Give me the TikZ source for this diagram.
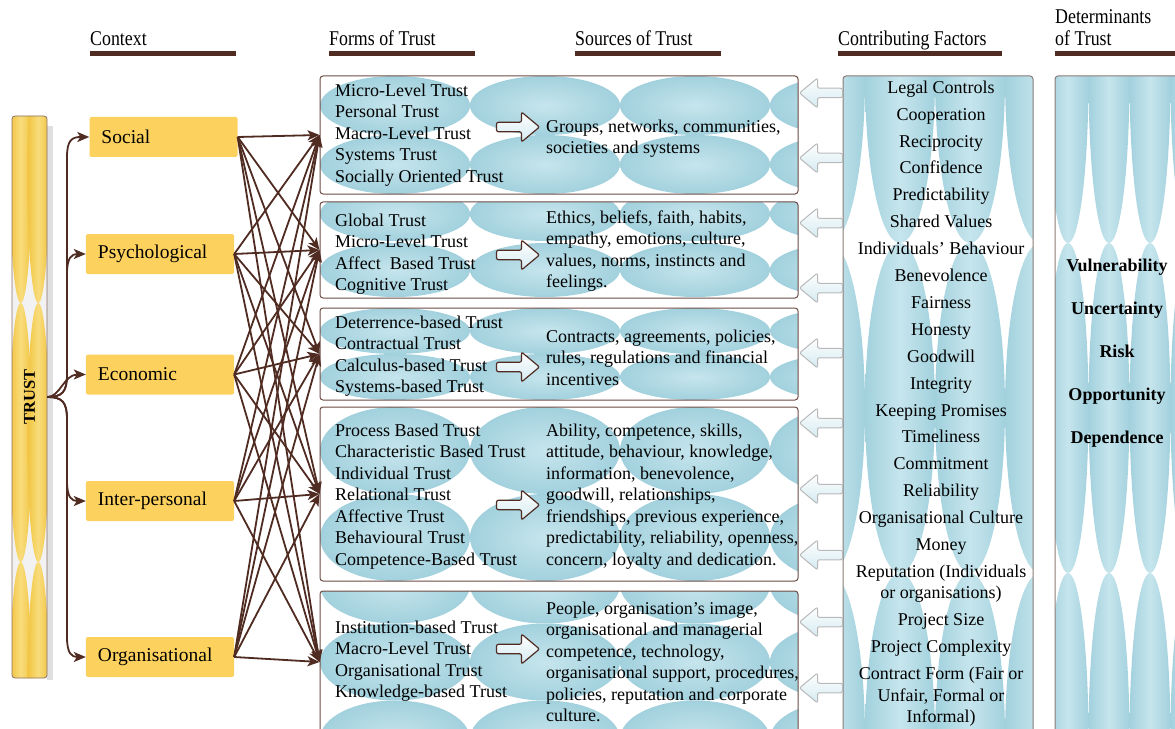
\documentclass[tikz,border=0pt]{standalone}
\usepackage{fontspec}
\setmainfont{Liberation Serif}
\newfontfamily\hdfont[FakeStretch=0.85]{Liberation Serif}
\usetikzlibrary{arrows.meta}
\definecolor{tbrown}{HTML}{4F2B22}
\definecolor{bluD}{HTML}{A2D1DD}
\definecolor{bluL}{HTML}{C6E5ED}
\definecolor{ylw}{HTML}{FCD15E}
\definecolor{ylwD}{HTML}{F2C440}
\definecolor{ylwL}{HTML}{F8DC7C}
\definecolor{boxline}{HTML}{6E4C44}
\definecolor{colline}{HTML}{8C7C78}
\definecolor{arrfill}{HTML}{D3EAF1}
\newcommand\txf{\fontsize{18bp}{21.5bp}\selectfont}
\newcommand\cff{\fontsize{18bp}{26.9bp}\selectfont}
\newcommand\dtf{\fontsize{18bp}{43bp}\selectfont\bfseries}
\newcommand\ctxf{\fontsize{19.5bp}{22bp}\selectfont}
\newcommand\hdf{\hdfont\fontsize{21bp}{22bp}\selectfont}
\newcommand\formbg[4]{%
  \begin{scope}
    \clip[rounded corners=3bp] (320,#1) rectangle (798,#2);
    \fill[white] (320,#1) rectangle (798,#2);
    \foreach \ry in {#3}{\foreach \cx in {395,545,695,845}{
      \shade[inner color=bluL, outer color=bluD] (\cx,\ry) ellipse [x radius=75bp, y radius=#4bp];}}
  \end{scope}}
\tikzset{
  hdr/.style={font=\hdf, inner sep=0, anchor=base west},
  ctx/.style={fill=ylw, rounded corners=2bp, minimum height=40bp, text width=124bp,
    inner xsep=12bp, inner ysep=0, align=left, font=\ctxf},
  formbox/.style={draw=boxline, line width=1bp, rounded corners=3bp, inner sep=0, minimum width=478bp},
  txt/.style={font=\txf, align=left, anchor=north west, inner sep=0},
  link/.style={draw=tbrown, line width=1.8bp, -{Stealth[length=12bp, width=10bp, inset=3bp]}},
  rarr/.pic={\shade[draw=tbrown, line width=1.2bp, top color=white, bottom color=arrfill, rounded corners=2bp]
    (-21.5,-4.75) -- (3.5,-4.75) -- (3.5,-15) -- (21.5,0) -- (3.5,15) -- (3.5,4.75) -- (-21.5,4.75) -- cycle;},
  larr/.pic={\shade[draw=gray!55, line width=1bp, top color=white, bottom color=arrfill, rounded corners=2bp]
    (21.5,-4.75) -- (-3.5,-4.75) -- (-3.5,-15) -- (-21.5,0) -- (-3.5,15) -- (-3.5,4.75) -- (21.5,4.75) -- cycle;}
}
\begin{document}
\begin{tikzpicture}[x=1bp,y=-1bp]
\useasboundingbox (0,0) rectangle (1175,729);
\clip (0,0) rectangle (1175,729);
\fill[white] (0,0) rectangle (1175,729);

% headers
\node[hdr] (hctx) at (90,46) {Context};
\node[hdr] (hform) at (329,46) {Forms of Trust};
\node[hdr] (hsrc) at (575,46) {Sources of Trust};
\node[hdr] (hcf) at (838,46) {Contributing Factors};
\node[hdr] (hdet1) at (1055,24) {Determinants};
\node[hdr] (hdet2) at (1055,46) {of Trust};
\foreach \a/\b in {90/236,329/475,575/721,838/1002,1055/1180}{\fill[tbrown] (\a,51) rectangle (\b,56);}

% TRUST bar
\fill[gray!25] (47,126) rectangle (53,680);
\begin{scope}
  \clip[rounded corners=3bp] (12,116) rectangle (47,678);
  \fill[gray!10] (12,116) rectangle (47,678);
  \foreach \cy in {173.5,432.5,691.5}{\foreach \cx in {20.75,38.25}{
    \shade[left color=ylwD, right color=ylwD, middle color=ylwL] (\cx,\cy) ellipse [x radius=11bp, y radius=129.5bp];}}
\end{scope}
\node[draw=boxline!80, line width=0.8bp, rounded corners=3bp, minimum width=35bp, minimum height=562bp, inner sep=0] (trust) at (29.5,397) {};
\node[rotate=90, font=\bfseries\fontsize{16.5bp}{18bp}\selectfont, inner sep=0] (trustlbl) at (29.5,397) {TRUST};

% context boxes
\node[ctx] (social) at (163.5,137) {Social};
\node[ctx] (psych) at (160,254) {Psychological};
\node[ctx] (econ) at (160,374.5) {Economic};
\node[ctx] (inter) at (160,501) {Inter-personal};
\node[ctx] (org) at (160,657) {Organisational};

% trust branches
\draw[link] (trust.east) .. controls (62,397) and (67,392) .. (67,375) -- (67,157) .. controls (67,140) and (72,137) .. (social.west);
\draw[link] (trust.east) .. controls (62,397) and (67,392) .. (67,375) -- (67,274) .. controls (67,257) and (72,254) .. (psych.west);
\draw[link] (trust.east) .. controls (60,397) and (64,374.5) .. (econ.west);
\draw[link] (trust.east) .. controls (62,397) and (67,402) .. (67,419) -- (67,481) .. controls (67,498) and (72,501) .. (inter.west);
\draw[link] (trust.east) .. controls (62,397) and (67,402) .. (67,419) -- (67,637) .. controls (67,654) and (72,657) .. (org.west);

% forms boxes
\formbg{76}{194}{105.5,164.5}{29.5}
\formbg{202}{298}{214,270,326}{27}
\formbg{308}{400}{331,377}{23}
\formbg{407}{581}{450.5,537.5}{43.5}
\formbg{591}{733}{585,662,739}{38.5}
\node[formbox, minimum height=118bp] (f1) at (559,135) {};
\node[formbox, minimum height=96bp] (f2) at (559,250) {};
\node[formbox, minimum height=92bp] (f3) at (559,354) {};
\node[formbox, minimum height=174bp] (f4) at (559,494) {};
\node[formbox, minimum height=142bp] (f5) at (559,662) {};

\node[txt] (f1t) at (335,80.95) {\strut Micro-Level Trust\\Personal Trust\\Macro-Level Trust\\Systems Trust\\Socially Oriented Trust};
\node[txt] (f1s) at (546,116.95) {\strut Groups, networks, communities,\\societies and systems};
\node[txt] (f2t) at (335,210.95) {\strut Global Trust\\Micro-Level Trust\\Affect\ \ Based Trust\\Cognitive Trust};
\node[txt] (f2s) at (546,207.95) {\strut Ethics, beliefs, faith, habits,\\empathy, emotions, culture,\\values, norms, instincts and\\feelings.};
\node[txt] (f3t) at (335,312.95) {\strut Deterrence-based Trust\\Contractual Trust\\Calculus-based Trust\\Systems-based Trust};
\node[txt] (f3s) at (546,326.95) {\strut Contracts, agreements, policies,\\rules, regulations and financial\\incentives};
\node[txt] (f4t) at (335,420.95) {\strut Process Based Trust\\Characteristic Based Trust\\Individual Trust\\Relational Trust\\Affective Trust\\Behavioural Trust\\Competence-Based Trust};
\node[txt] (f4s) at (546,420.95) {\strut Ability, competence, skills,\\attitude, behaviour, knowledge,\\information, benevolence,\\goodwill, relationships,\\friendships, previous experience,\\predictability, reliability, openness,\\concern, loyalty and dedication.};
\node[txt] (f5t) at (335,617.95) {\strut Institution-based Trust\\Macro-Level Trust\\Organisational Trust\\Knowledge-based Trust};
\node[txt] (f5s) at (546,598.95) {\strut People, organisation's image,\\organisational and managerial\\competence, technology,\\organisational support, procedures,\\policies, reputation and corporate\\culture.};

\foreach \y in {127,255,367,505,649}{\pic at (518,\y) {rarr};}

% contributing factors column
\begin{scope}
  \clip[rounded corners=3bp] (843,76) rectangle (1033,745);
  \fill[white] (843,76) rectangle (1033,745);
  \foreach \cy in {78,408,738}{\foreach \cx in {830,900,970,1040}{
    \shade[left color=bluD, right color=bluD, middle color=bluL] (\cx,\cy) ellipse [x radius=35bp, y radius=165bp];}}
\end{scope}
\node[draw=colline, line width=1bp, rounded corners=3bp, minimum width=190bp, minimum height=669bp, inner sep=0] (cfbox) at (938,410.5) {};
\node[font=\cff, align=center, anchor=north, inner sep=0] (cflist) at (941,74.17) {\strut Legal Controls\\Cooperation\\Reciprocity\\Confidence\\Predictability\\Shared Values\\Individuals' Behaviour\\Benevolence\\Fairness\\Honesty\\Goodwill\\Integrity\\Keeping Promises\\Timeliness\\Commitment\\Reliability\\Organisational Culture\\Money\\Reputation (Individuals\\[-5.4bp]or organisations)\\Project Size\\Project Complexity\\Contract Form (Fair or\\[-5.4bp]Unfair, Formal or\\[-5.4bp]Informal)};

\foreach \y in {93,158,223,288,353,423,489,555,622,688}{\pic at (821,\y) {larr};}

% determinants column
\begin{scope}
  \clip[rounded corners=3bp] (1055,76) rectangle (1190,745);
  \fill[white] (1055,76) rectangle (1190,745);
  \foreach \cy in {78,408,738}{\foreach \cx in {1027,1068,1109,1150,1191}{
    \shade[left color=bluD, right color=bluD, middle color=bluL] (\cx,\cy) ellipse [x radius=20.5bp, y radius=165bp];}}
\end{scope}
\node[draw=colline, line width=1bp, rounded corners=3bp, minimum width=135bp, minimum height=669bp, inner sep=0] (detbox) at (1122.5,410.5) {};
\node[font=\dtf, align=center, anchor=north, inner sep=0] (detlist) at (1117,240.9) {\strut Vulnerability\\Uncertainty\\Risk\\Opportunity\\Dependence};

% context -> forms connectors
\foreach \s in {social,psych,econ,inter,org}{\foreach \t in {f1,f2,f3,f4,f5}{\draw[link] (\s.east) -- (\t.west);}}
\end{tikzpicture}
\end{document}
